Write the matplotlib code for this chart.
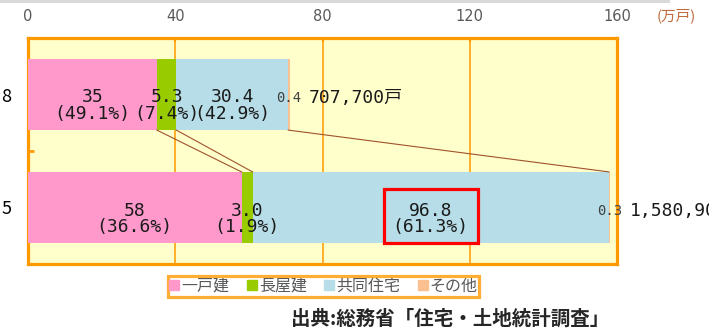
import numpy as np
import matplotlib.pyplot as plt
from matplotlib.lines import Line2D
from matplotlib.patches import Rectangle

plt.rcParams['font.family'] = ['DejaVu Sans', 'Noto Sans CJK JP']

# housing starts by type (10,000 units)
years = ['8', '5']
types = ['一戸建', '長屋建', '共同住宅', 'その他']
values = np.array([[35, 5.3, 30.4, 0.4],
                   [58, 3.0, 96.8, 0.3]])
shares = [['49.1%', '7.4%', '42.9%', None],
          ['36.6%', '1.9%', '61.3%', None]]
totals = [707700, 1580900]
xticks = [0, 40, 80, 120, 160]

colors = ['#FF99CC', '#99CC00', '#B7DEE8', '#FAC090']
orange = '#FF9900'
mono = ['DejaVu Sans Mono', 'Noto Sans CJK JP']


def fmt(v):
    return '%.0f' % v if v >= 10 and v == int(v) else '%.1f' % v


fig = plt.figure(figsize=(7.09, 3.33), dpi=100)
ax = fig.add_axes([28/709, 1-264/333, 589/709, 226/333])
ax.set_facecolor('#FFFFCC')

h = 0.63
y = np.arange(len(years))
left = np.zeros(len(years))
for j in range(len(types)):
    ax.barh(y, values[:, j], left=left, height=h, color=colors[j], zorder=3)
    for i in range(len(years)):
        cx = left[i] + values[i, j]/2
        if shares[i][j] is not None:
            ax.text(cx, y[i] + 0.1, '%s\n(%s)' % (fmt(values[i, j]), shares[i][j]),
                    ha='center', va='center', fontsize=13, family=mono,
                    color='#1a1a1a', linespacing=0.9, zorder=5)
        else:
            ax.text(cx, y[i] + 0.03, fmt(values[i, j]), ha='center', va='center',
                    fontsize=10, family=mono, color='#404040', zorder=5)
    left = left + values[:, j]

# totals to the right of each bar
for i in range(len(years)):
    ax.annotate('{:,}戸'.format(totals[i]), xy=(left[i], y[i] + 0.03), xytext=(14, 0),
                textcoords='offset points', ha='left', va='center', fontsize=13,
                family=mono, color='#1a1a1a', annotation_clip=False)

# connector lines between the two bars
cum = np.cumsum(values, axis=1)
for j in range(3):
    ax.plot([cum[0, j], cum[1, j]], [y[0] + h/2, y[1] - h/2], color='#A0522D',
            lw=0.8, zorder=4)

# highlight box around the apartment share
cx = cum[1, 1] + values[1, 2]/2
ax.add_patch(Rectangle((cx - 12.75, 0.833), 25.5, 0.485, fill=False,
                       edgecolor='#FF0000', lw=2.3, zorder=6))

ax.set_xlim(0, 160)
ax.set_ylim(1.5, -0.5)
ax.xaxis.tick_top()
ax.set_xticks(xticks)
ax.tick_params(axis='x', direction='in', length=3, width=1.5, color=orange,
               labelsize=10.5, labelcolor='#595959', pad=10)
ax.grid(axis='x', color=orange, lw=1.1, zorder=1)
ax.set_yticks(y)
ax.set_yticklabels(years, family='Noto Sans CJK JP')
ax.tick_params(axis='y', length=0, labelsize=13, pad=12)
ax.set_yticks([0.5], minor=True)
ax.tick_params(axis='y', which='minor', direction='in', length=4.5, width=2,
               color=orange)
for s in ax.spines.values():
    s.set_color(orange)
    s.set_linewidth(2.3)

fig.text(657/709, 1-16/333, '(万戸)', fontsize=10.5, color='#C0693A',
         va='center', ha='left', family='Noto Sans CJK JP')

# grey strip at the top
fig.add_artist(Rectangle((0, 1-3/333), 670/709, 3/333, transform=fig.transFigure,
                         color='#D9D9D9', lw=0))

handles = [Line2D([], [], marker='s', ls='', markersize=7.5, color=c) for c in colors]
leg = fig.legend(handles, types, loc='center', bbox_to_anchor=(323.5/709, 1-286.5/333),
                 ncol=4, frameon=True, fancybox=False,
                 handlelength=0.6, handletextpad=0.15, columnspacing=1.1,
                 borderpad=0.1, prop={'family': 'Noto Sans CJK JP', 'size': 11.5})
leg.get_frame().set_edgecolor(orange)
leg.get_frame().set_linewidth(2.3)
for t in leg.get_texts():
    t.set_color('#595959')

fig.text(450/709, 1-319/333, '出典:総務省「住宅・土地統計調査」', fontsize=14,
         ha='center', va='center', color='#262626', family='Noto Sans CJK JP',
         fontweight='bold')

fig.savefig('out.png', dpi=100)
